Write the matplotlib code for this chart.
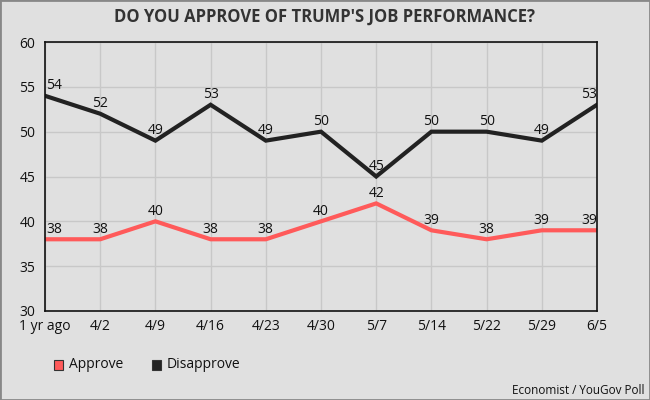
import matplotlib.pyplot as plt
from matplotlib.patches import Rectangle

plt.rcParams['font.family'] = ['Open Sans', 'DejaVu Sans']

# data
weeks = ['1 yr ago', '4/2', '4/9', '4/16', '4/23', '4/30', '5/7', '5/14', '5/22', '5/29', '6/5']
approve = [38, 38, 40, 38, 38, 40, 42, 39, 38, 39, 39]
disapprove = [54, 52, 49, 53, 49, 50, 45, 50, 50, 49, 53]

bg = '#e0e0e0'
red = '#ff5a5a'
dark = '#222222'

fig = plt.figure(figsize=(6.5, 4), dpi=100, facecolor=bg)
ax = fig.add_axes([45/650, 1-311/400, 552/650, 269/400])
ax.set_facecolor(bg)

x = list(range(len(weeks)))
ax.plot(x, approve, color=red, lw=3, solid_joinstyle='miter', zorder=3)
ax.plot(x, disapprove, color=dark, lw=3, solid_joinstyle='miter', zorder=3)

last = len(weeks) - 1
for i in x:
    # end labels are pushed inside the plot, the rest are centred
    if i == 0:
        ha, dx = 'left', 0.02
    elif i == last:
        ha, dx = 'right', 0
    else:
        ha, dx = 'center', 0
    ax.text(i + dx, approve[i] + 0.3, str(approve[i]), ha=ha, va='bottom', fontsize=10, color='#111')
    ax.text(i + dx, disapprove[i] + 0.3, str(disapprove[i]), ha=ha, va='bottom', fontsize=10, color='#111')

ax.set_xlim(0, last)
ax.set_ylim(30, 60)
ax.set_yticks(range(30, 61, 5))
ax.set_xticks(x)
ax.set_xticklabels(weeks)
ax.grid(True, color='#c8c8c8', lw=1)
ax.set_axisbelow(True)
ax.tick_params(length=0, labelsize=10, colors='#111')
ax.tick_params(axis='x', pad=6)
ax.tick_params(axis='y', pad=7)
for lbl in ax.get_yticklabels():
    lbl.set_va('center_baseline')
for s in ax.spines.values():
    s.set_color('#111')
    s.set_linewidth(1.2)
    s.set_zorder(4)

fig.text(0.5, 1-17/400, "DO YOU APPROVE OF TRUMP'S JOB PERFORMANCE?", ha='center', va='center',
         fontsize=12, fontweight='bold', color='#333')

# legend
fig.patches.append(Rectangle((54/650, 1-370/400), 9/650, 10/400, transform=fig.transFigure,
                             facecolor=red, edgecolor='#333', lw=0.8))
fig.text(69/650, 1-365/400, 'Approve', va='center', fontsize=10, color='#111')
fig.patches.append(Rectangle((152/650, 1-370/400), 9/650, 10/400, transform=fig.transFigure,
                             facecolor=dark, edgecolor='#333', lw=0.8))
fig.text(167/650, 1-365/400, 'Disapprove', va='center', fontsize=10, color='#111')

fig.text(645/650, 1-391/400, 'Economist / YouGov Poll', ha='right', va='center', fontsize=8.5, color='#111')

# outer border
fig.patches.append(Rectangle((0, 0), 1, 1, transform=fig.transFigure, fill=False,
                             edgecolor='#888888', lw=2))

plt.savefig('out.png', dpi=100, facecolor=bg)
